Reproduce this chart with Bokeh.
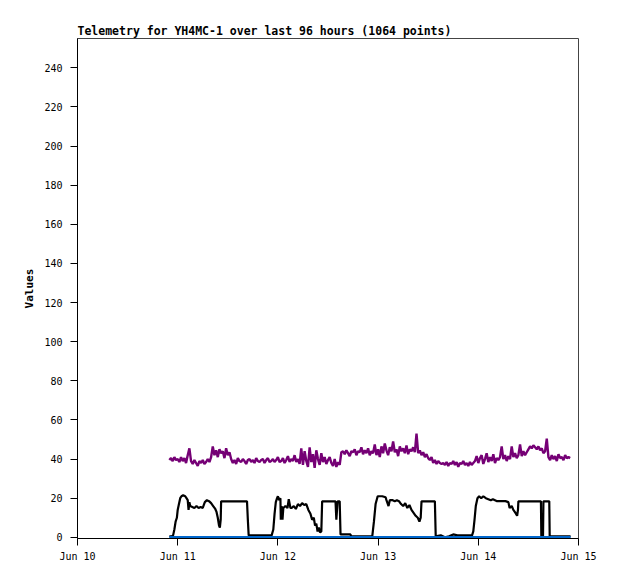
from bokeh.plotting import figure
from bokeh.models import FixedTicker, Range1d
from bokeh.embed import file_html
from bokeh.resources import INLINE
import numpy as np

# ---- data (hours since Jun 10 00:00) ----
x_tick_hours = [0, 24, 48, 72, 96, 120]
x_tick_labels = ["Jun 10", "Jun 11", "Jun 12", "Jun 13", "Jun 14", "Jun 15"]
y_ticks = [0, 20, 40, 60, 80, 100, 120, 140, 160, 180, 200, 220, 240]

purple_start = 22.0
purple_step = 0.4
purple_values = [
    39.5, 40.5, 39, 41, 39.5, 40,
    38.5, 41, 39, 40.5, 38, 42,
    45.5,
    39, 37.5, 39.5, 38, 36.5, 39, 38, 39.5, 37.5, 38.5, 40, 38.5, 41,
    46.5, 42, 44.5, 41, 45, 43, 44, 40.5, 45.5, 42, 43.5,
    40, 38, 39.5, 37.5, 40.5, 39, 38.5, 40, 39, 37.5, 39.5, 40, 38.5, 39.5, 38, 40.5, 39, 38.5, 39.5, 40, 38, 39.5, 40.5, 38.5,
    39, 40, 38.5, 39.5, 41, 38.5, 39, 40.5, 38, 39.5, 41.5, 38.5, 40, 39, 42, 38.5, 40, 37.5,
    45.5, 37, 44, 39, 36, 46, 38.5, 42.5, 35.5, 44.5, 40, 37, 43, 38.5, 41, 37.5, 39.5, 41, 38, 36.5, 40, 36, 38.5, 37,
    43.5, 44, 42.5, 44.5, 43, 41.5, 44, 43.5, 45, 42, 44, 43.5, 46, 42.5, 44.5, 43, 45.5, 42, 44, 43,
    47.5, 42, 45, 41, 46.5, 43, 48, 44.5, 42, 46, 44, 49, 43.5, 45, 41.5, 46.5, 44, 45.5, 43, 47, 42.5, 45, 44, 46, 43.5,
    53,
    43, 44.5, 42, 43.5, 41, 42.5, 40.5,
    39.5, 41, 38, 39.5, 37.5, 39, 38, 37.5,
    38, 37, 38.5, 36.5, 38, 37.5, 39, 37, 38.5, 36, 38, 37.5, 39, 37, 38, 36.5, 38.5, 37, 38,
    39, 41.5, 38, 40.5, 42, 37.5, 40, 43, 38.5, 41, 39, 42.5, 38, 40.5, 39.5, 41,
    46.5,
    40, 42, 39, 41.5, 40,
    46.5,
    41, 43, 40.5, 42,
    47.5,
    41.5, 44, 42, 43.5,
    45, 46.5, 45.5, 47, 46, 45, 46.5, 44.5, 45.5, 43,
    44,
    50.5,
    41, 39.5, 42, 40, 41.5, 39, 42.5, 40.5, 41, 39.5, 42, 40.5, 41, 40.5,
]

black_hours = [
    22.0, 22.5, 22.9, 23.2, 23.5, 23.8, 24.0, 24.3, 24.6, 24.9, 25.3, 25.8, 26.1, 26.4, 26.6, 26.8,
    27.0, 27.5, 28.0, 28.5, 29.0, 29.5, 30.0, 30.5, 31.0, 31.5, 32.0, 32.5, 33.0, 33.3, 33.6, 33.9,
    34.1, 34.3, 34.4, 40.6, 40.8, 41.0, 46.5, 46.9, 47.2, 47.5, 47.8, 48.0, 48.3, 48.6, 48.7, 48.9,
    49.1, 49.3, 49.8, 50.3, 50.6, 51.0, 51.3, 51.8, 52.3, 52.8, 53.3, 53.8, 54.3, 54.8, 55.3, 55.8,
    56.2, 56.6, 56.9, 57.2, 57.5, 57.8, 58.1, 58.4, 58.6, 61.8, 62.0, 62.3, 62.8, 63.0, 65.4, 65.5,
    70.6, 71.0, 71.4, 71.9, 72.5, 73.0, 73.8, 74.0, 74.5, 74.8, 75.5, 76.0, 76.5, 77.0, 77.5, 78.0,
    78.5, 79.0, 79.5, 80.0, 80.5, 81.0, 81.5, 81.9, 82.2, 82.4, 85.6, 85.8, 87.0, 88.0, 89.0, 90.0,
    91.0, 92.0, 94.5, 94.8, 95.1, 95.4, 95.8, 96.2, 96.7, 97.2, 97.8, 98.4, 99.0, 99.5, 100.5, 101.5,
    102.5, 103.2, 103.5, 104.0, 104.4, 104.9, 105.3, 105.5, 105.6, 111.0, 111.1, 111.5, 111.6, 113.0, 113.1, 118.1,
]
black_values = [
    0.5, 0.5, 1, 4, 8, 10, 14, 17, 20, 21, 21.5, 21, 20, 19, 14, 18,
    16, 15.5, 15, 16, 15, 15.5, 15, 18, 19, 18.5, 17.5, 16, 14.5, 13, 10, 6,
    5, 9, 18.4, 18.4, 9, 1, 1, 4, 12, 18, 20, 21, 19, 20, 9, 16,
    9, 15, 16, 15, 19.5, 15, 15, 16, 14.5, 17, 16, 17.5, 16.5, 17, 14, 12,
    9, 10, 6, 7, 3, 5, 2.5, 3, 18.4, 18.4, 9, 18.4, 18.4, 1.5, 1.5, 0.5,
    0.5, 8, 17, 21, 21, 21, 20.5, 19, 16, 19, 19, 18.5, 19, 18.5, 17, 16,
    17.5, 15, 16.5, 14, 12.5, 11, 10, 8, 10, 18.4, 18.4, 0.5, 1, 0, 0.5, 1.5,
    1, 1, 1, 3, 9, 16, 20, 21, 20, 21, 20, 19.5, 19, 19.5, 18.5, 18.5,
    18.5, 18, 15, 16, 14, 12.5, 11, 14, 18.4, 18.4, 0.5, 0.5, 18.4, 18.4, 0.5, 0.5,
]

blue_hours = [22.0, 118.1]
blue_values = [0, 0]

purple_hours = list(np.round(purple_start + purple_step * np.arange(len(purple_values)), 2))

MONO = "DejaVu Sans Mono"

p = figure(
    width=610, height=575,
    output_backend="svg", toolbar_location=None,
    x_range=Range1d(0, 120), y_range=Range1d(-0.6, 255),
    min_border_left=77, min_border_right=32, min_border_top=38, min_border_bottom=37,
    title="Telemetry for YH4MC-1 over last 96 hours (1064 points)",
)
p.frame_width = 501
p.frame_height = 500

p.title.text_font = MONO
p.title.text_font_size = "11.5px"
p.title.text_font_style = "bold"
p.title.text_color = "black"
p.title.align = "left"
p.title.offset = 0
p.title.standoff = 2

p.xgrid.visible = False
p.ygrid.visible = False
p.outline_line_color = "#444444"
p.outline_line_width = 1
p.background_fill_color = "white"
p.border_fill_color = "white"

p.line(purple_hours, purple_values, line_color="#750075", line_width=2.4)
p.line(black_hours, black_values, line_color="black", line_width=2.2)
p.line(blue_hours, blue_values, line_color="#0066cc", line_width=2.5)

for ax in (p.xaxis[0], p.yaxis[0]):
    ax.axis_line_color = "black"
    ax.major_tick_line_color = "black"
    ax.major_tick_out = 7
    ax.major_tick_in = 0
    ax.minor_tick_out = 0
    ax.minor_tick_in = 0
    ax.major_label_text_font = MONO
    ax.major_label_text_font_size = "10px"
    ax.major_label_text_color = "black"

p.xaxis.ticker = FixedTicker(ticks=x_tick_hours)
p.xaxis.major_label_overrides = {h: lab for h, lab in zip(x_tick_hours, x_tick_labels)}
p.xaxis.major_label_standoff = 5
p.yaxis.ticker = FixedTicker(ticks=y_ticks)
p.yaxis.major_label_standoff = 8
p.yaxis.axis_label = "Values"
p.yaxis.axis_label_text_font = MONO
p.yaxis.axis_label_text_font_size = "11px"
p.yaxis.axis_label_text_font_style = "bold"
p.yaxis.axis_label_text_color = "black"
p.yaxis.axis_label_standoff = 5

open("out.html", "w").write(file_html(p, INLINE))
